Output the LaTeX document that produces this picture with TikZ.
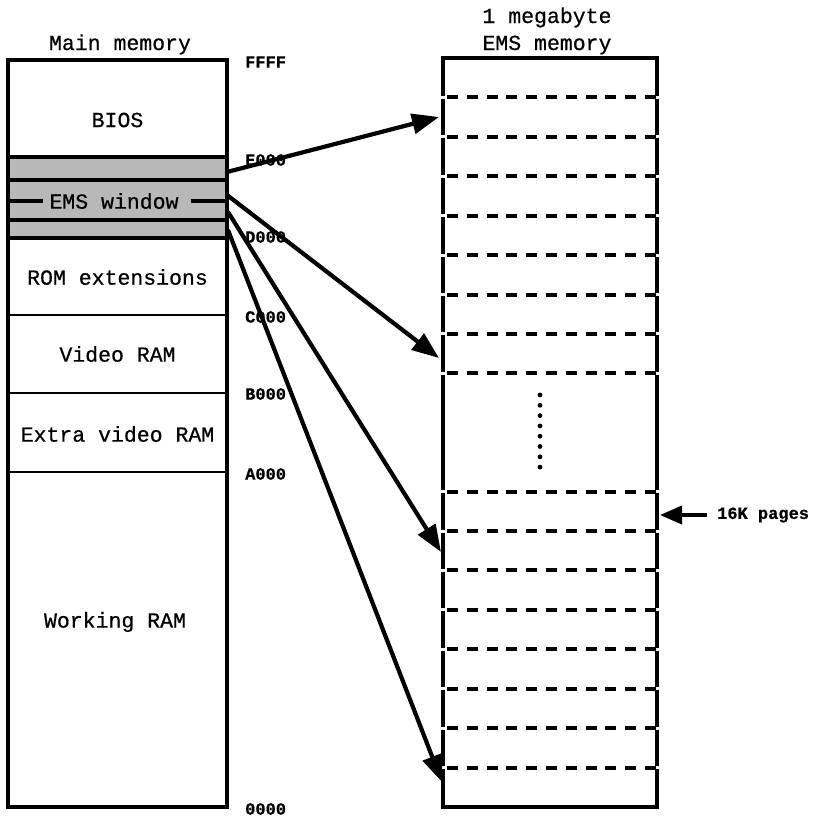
\documentclass[tikz,border=0pt]{standalone}
\usepackage{fontspec}
\setmainfont[FakeBold=0.6]{Liberation Mono}
\usetikzlibrary{arrows.meta}
\begin{document}
\begin{tikzpicture}[x=1pt,y=-1pt,
  boxline/.style={line width=3.6pt},
  divline/.style={line width=2.4pt},
  bandline/.style={line width=3.2pt},
  memtext/.style={font=\fontsize{21.5}{24}\selectfont, inner sep=0pt},
  titletext/.style={font=\fontsize{21.5}{24}\selectfont, inner sep=0pt, anchor=base},
  addr/.style={font=\fontsize{17}{20}\selectfont\bfseries, inner sep=0pt, anchor=west},
  maparrow/.style={line width=4.2pt, -{Triangle[length=27pt,width=20pt]}},
  pagearrow/.style={line width=4pt, -{Triangle[length=22pt,width=18pt]}},
  pageline/.style={line width=4pt, dash pattern=on 11pt off 8.8pt},
  bandfill/.style={fill=black!28},
  gap/.style={white, line width=3pt}]
\useasboundingbox (0,0) rectangle (816,817);

% ---------- main memory ----------
\fill[bandfill] (8,157) rectangle (227,238);
\draw[bandline] (8,157) -- (227,157);
\draw[bandline] (8,180) -- (227,180);
\draw[bandline] (8,220) -- (227,220);
\draw[bandline] (8,238) -- (227,238);
\draw[divline] (8,315) -- (227,315);
\draw[divline] (8,393) -- (227,393);
\draw[divline] (8,472) -- (227,472);
\draw[boxline] (8,60) rectangle (227,807);

\node[titletext] (maintitle) at (120,50) {Main memory};
\node[memtext] (bios) at (117.5,120) {BIOS};
\node[memtext] (win) at (114,201) {EMS window};
\draw[bandline] (8,201) -- ([xshift=-6pt]win.west);
\draw[bandline] ([xshift=12pt]win.east) -- (227,201);
\node[memtext] (rom) at (117.5,277) {ROM extensions};
\node[memtext] (video) at (117.5,354) {Video RAM};
\node[memtext] (xvideo) at (117.5,434) {Extra video RAM};
\node[memtext] (work) at (115,622) {Working RAM};

% ---------- addresses ----------
\node[addr] (aF) at (245,62) {FFFF};
\node[addr] (aE) at (245,160) {E000};
\node[addr] (aD) at (245,237) {D000};
\node[addr] (aC) at (245,317) {C000};
\node[addr] (aB) at (245,394) {B000};
\node[addr] (aA) at (245,474) {A000};
\node[addr] (a0) at (245,809) {0000};

% ---------- EMS memory ----------
\node[titletext] (emstitle1) at (547,23) {1 megabyte};
\node[titletext] (emstitle2) at (547,50) {EMS memory};
\draw[boxline] (443,58) rectangle (657,807);
\foreach \k in {1,...,8,11,12,...,18} {
  \pgfmathsetmacro\yy{58+39.42*\k}
  \draw[gap] (440,\yy) -- (446,\yy);
  \draw[gap] (654,\yy) -- (660,\yy);
  \draw[pageline] (447,\yy) -- (656,\yy);
}
\foreach \i in {0,...,7} {
  \fill (540,{395+10.3*\i}) circle (2.4);
}

% ---------- mapping arrows ----------
\coordinate (s1) at (227,172);
\coordinate (t1) at (439,117);
\coordinate (s2) at (227,195);
\coordinate (t2) at (439,358);
\coordinate (s3) at (228,212);
\coordinate (t3) at (441,552);
\coordinate (s4) at (228,230);
\coordinate (t4) at (442,782);
\draw[maparrow] (s1) -- (t1);
\draw[maparrow] (s2) -- (t2);
\draw[maparrow] (s3) -- (t3);
\draw[maparrow] (s4) -- (t4);

% ---------- page label ----------
\node[addr] (pages) at (717,515) {16K pages};
\coordinate (ptip) at (660,515);
\draw[pagearrow] ([xshift=-10pt]pages.west) -- (ptip);
\end{tikzpicture}
\end{document}
